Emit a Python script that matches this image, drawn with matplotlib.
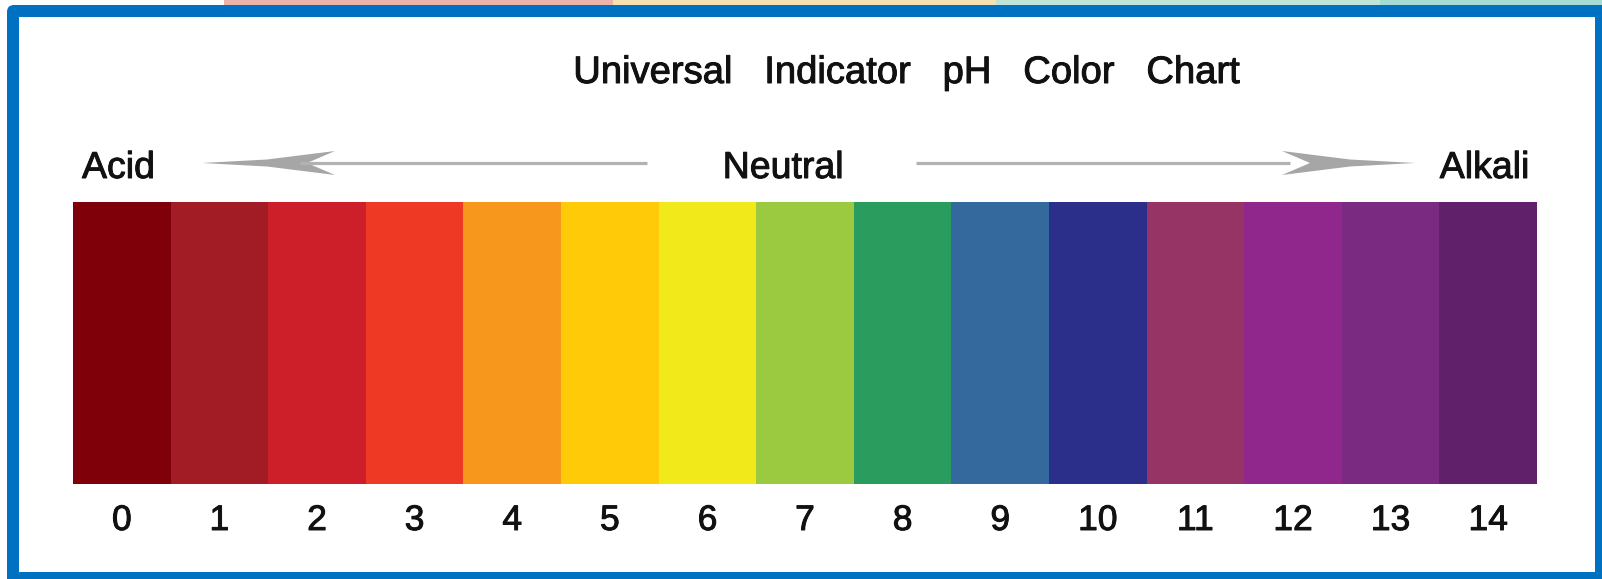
import matplotlib.pyplot as plt
import matplotlib.patheffects as pe
from matplotlib.patches import Rectangle, FancyBboxPatch, Polygon

# pH scale data
ph = list(range(15))
ph_labels = [str(p) for p in ph]
colors = ['#7f0009', '#a11c24', '#cc1f2a', '#ee3a24', '#f7981d',
          '#ffcb08', '#f2e91a', '#9bc93f', '#2a9c5e', '#33699c',
          '#2b2f8a', '#963466', '#8f278c', '#7a2a80', '#61206a']
title = 'Universal   Indicator   pH   Color   Chart'
side_labels = ['Acid', 'Neutral', 'Alkali']

W, H = 1602, 579
plt.rcParams['font.family'] = ['Liberation Sans', 'DejaVu Sans']
txt_col = '#111111'
heavy = [pe.withStroke(linewidth=0.7, foreground=txt_col)]

fig = plt.figure(figsize=(W / 100, H / 100), dpi=100)

# background / frame in pixel coordinates
bg = fig.add_axes([0, 0, 1, 1])
bg.set_xlim(0, W)
bg.set_ylim(H, 0)
bg.axis('off')

strip = [(224, 613, '#ebb4aa'), (613, 996, '#f7e1b0'),
         (996, 1380, '#c0e4d5'), (1380, W, '#a3dcd2')]
for x0, x1, c in strip:
    bg.add_patch(Rectangle((x0, 0), x1 - x0, 8, color=c, lw=0))

bg.add_patch(FancyBboxPatch((7, 5), W + 20, H + 20,
                            boxstyle='round,pad=0,rounding_size=7',
                            fc='#0070c0', ec='none'))
bg.add_patch(Rectangle((19, 17), 1595 - 19, 572 - 17, fc='white', ec='none'))

bg.text(907, 83, title, fontsize=27.5, ha='center', va='baseline',
        color=txt_col, path_effects=heavy)
bg.text(82, 178, side_labels[0], fontsize=27, ha='left', va='baseline',
        color=txt_col, path_effects=heavy)
bg.text(783, 178, side_labels[1], fontsize=27, ha='center', va='baseline',
        color=txt_col, path_effects=heavy)
bg.text(1529, 178, side_labels[2], fontsize=27, ha='right', va='baseline',
        color=txt_col, path_effects=heavy)

# arrows
line_y = 163
line_col = '#b2b2b2'
head_col = '#a6a6a6'
bg.plot([300, 647], [line_y, line_y], color=line_col, lw=2.3, solid_capstyle='butt')
bg.plot([916, 1290], [line_y, line_y], color=line_col, lw=2.3, solid_capstyle='butt')


def head(tip, direction):
    d = direction
    pts = [(tip, line_y), (tip + d * 65, line_y - 3.5), (tip + d * 133, line_y - 12),
           (tip + d * 105, line_y), (tip + d * 133, line_y + 12),
           (tip + d * 65, line_y + 3.5)]
    bg.add_patch(Polygon(pts, closed=True, fc=head_col, ec='none'))


head(202, 1)
head(1415, -1)

# colour bar
ax = fig.add_axes([73 / W, 1 - 484 / H, (1537 - 73) / W, (484 - 202) / H])
ax.bar(ph, [1] * len(ph), width=1.0, color=colors, align='center', lw=0)
ax.set_xlim(-0.5, 14.5)
ax.set_ylim(0, 1)
ax.axis('off')
for p, lab in zip(ph, ph_labels):
    ax.text(p, -46 / 282, lab, transform=ax.get_xaxis_transform(),
            ha='center', va='baseline', fontsize=25.5, color=txt_col,
            path_effects=heavy)

fig.savefig('out.png', dpi=100)
